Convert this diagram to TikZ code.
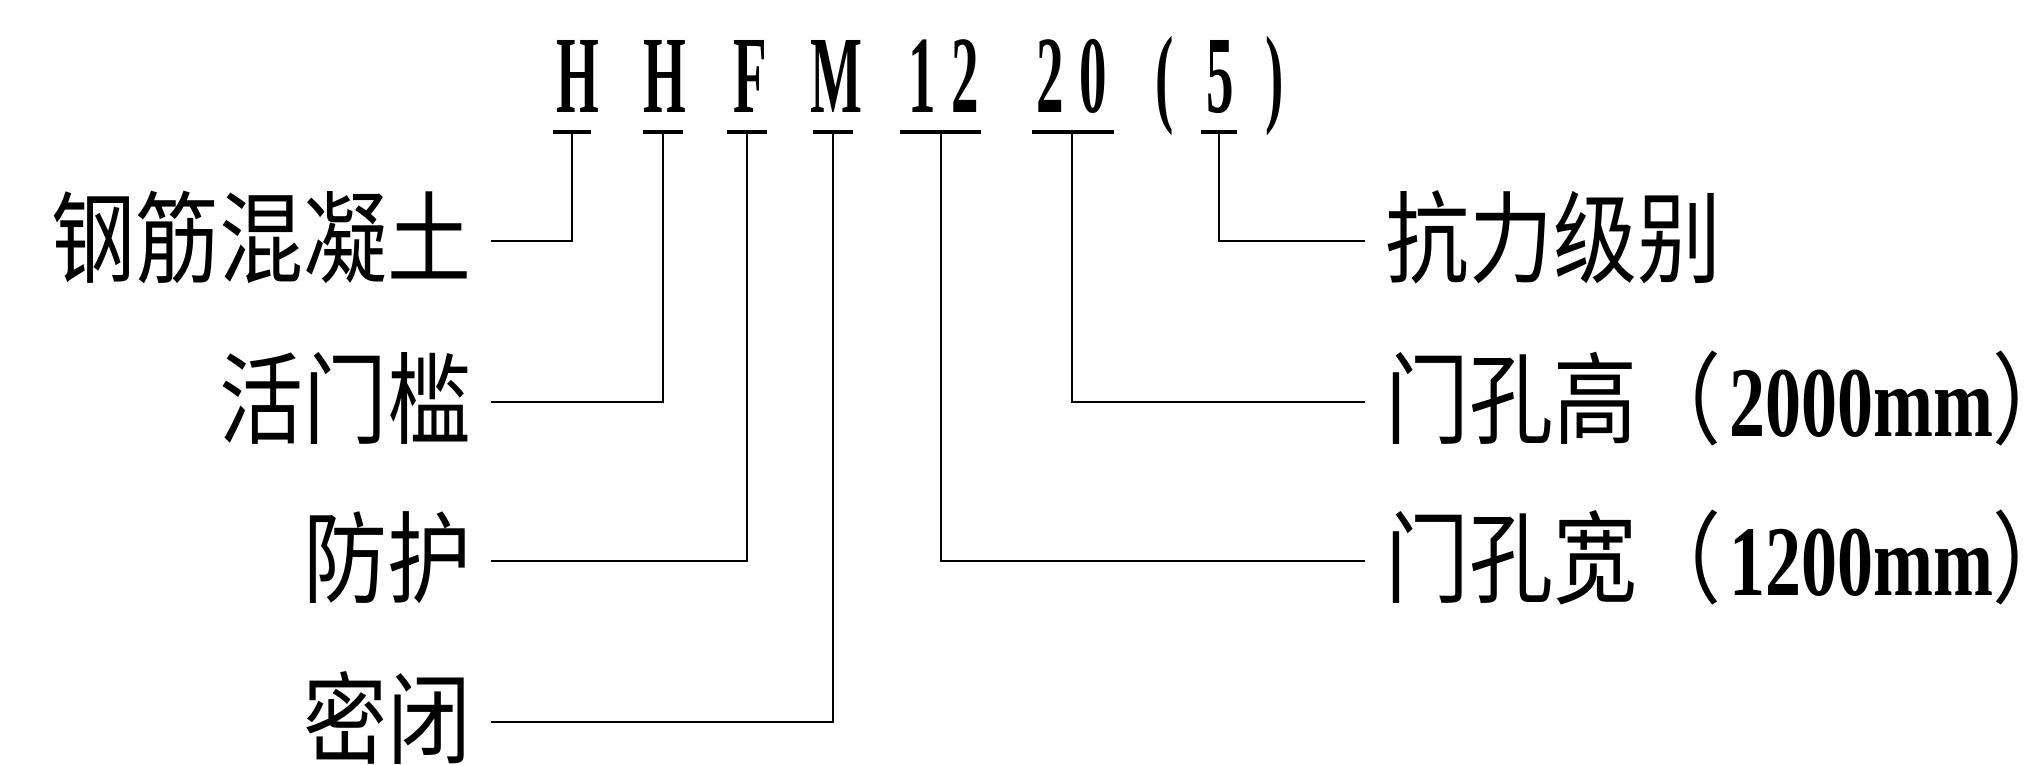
\documentclass[tikz,border=0pt]{standalone}
\usepackage{fontspec}
\newfontfamily\cjkfont[FakeStretch=0.84]{Noto Sans CJK SC}
\newfontfamily\codefont[FakeStretch=0.5]{Liberation Serif}
\newfontfamily\numfont[FakeStretch=0.72]{Liberation Serif}
\usetikzlibrary{calc}
\tikzset{
  lbl/.style={inner sep=0pt, text height=19pt, text depth=2pt,
    font=\cjkfont\fontsize{25}{25}\selectfont},
  leftlbl/.style={lbl, anchor=east, outer xsep=5pt},
  rightlbl/.style={lbl, anchor=west, outer xsep=5pt},
  code/.style={inner sep=0pt, anchor=base, font=\codefont\bfseries\fontsize{27.5}{27.5}\selectfont},
  conn/.style={line width=0.6pt},
  tickline/.style={line width=0.8pt},
}
\newcommand{\rparen}{\makebox[0.5em][l]{）}}
\begin{document}
\begin{tikzpicture}[x=0.25pt,y=-0.25pt]
\fill[white] (0,0) rectangle (2043,764);
\useasboundingbox (0,0) rectangle (2043,764);
% code letters
\node[code] (c1) at (578,112) {H};
\node[code] (c2) at (665,112) {H};
\node[code] (c3) at (750,112) {F};
\node[code] (c4) at (836,112) {M};
\node[code] (c5) at (944,112) {1\kern4pt 2};
\node[code] (c6) at (1072,112) {2\kern4pt 0};
\node[code] (lp) at (1165,112) {(};
\node[code] (c7) at (1220,112) {5};
\node[code] (rp) at (1275,112) {)};
% tick points
\coordinate (t1) at (572,132);
\coordinate (t2) at (663,132);
\coordinate (t3) at (747,132);
\coordinate (t4) at (833,132);
\coordinate (t5) at (941,132);
\coordinate (t6) at (1072,132);
\coordinate (t7) at (1219,132);
\draw[tickline] ($(t1)+(-19,0)$) -- ($(t1)+(19,0)$);
\draw[tickline] ($(t2)+(-20,0)$) -- ($(t2)+(20,0)$);
\draw[tickline] ($(t3)+(-20,0)$) -- ($(t3)+(20,0)$);
\draw[tickline] ($(t4)+(-20,0)$) -- ($(t4)+(20,0)$);
\draw[tickline] ($(t5)+(-41,0)$) -- ($(t5)+(40,0)$);
\draw[tickline] ($(t6)+(-40,0)$) -- ($(t6)+(42,0)$);
\draw[tickline] ($(t7)+(-18,0)$) -- ($(t7)+(18,0)$);
% labels
\node[leftlbl] (l1) at (491,241) {钢筋混凝土};
\node[leftlbl] (l2) at (491,402) {活门槛};
\node[leftlbl] (l3) at (491,561) {防护};
\node[leftlbl] (l4) at (491,722) {密闭};
\node[rightlbl] (r1) at (1365,241) {抗力级别};
\node[rightlbl] (r2) at (1365,402) {门孔高（\kern2pt{\numfont\bfseries 2000mm}\rparen};
\node[rightlbl] (r3) at (1365,561) {门孔宽（\kern2pt{\numfont\bfseries 1200mm}\rparen};
% connectors
\draw[conn] (t1) |- (l1.east);
\draw[conn] (t2) |- (l2.east);
\draw[conn] (t3) |- (l3.east);
\draw[conn] (t4) |- (l4.east);
\draw[conn] (t5) |- (r3.west);
\draw[conn] (t6) |- (r2.west);
\draw[conn] (t7) |- (r1.west);
\end{tikzpicture}
\end{document}
